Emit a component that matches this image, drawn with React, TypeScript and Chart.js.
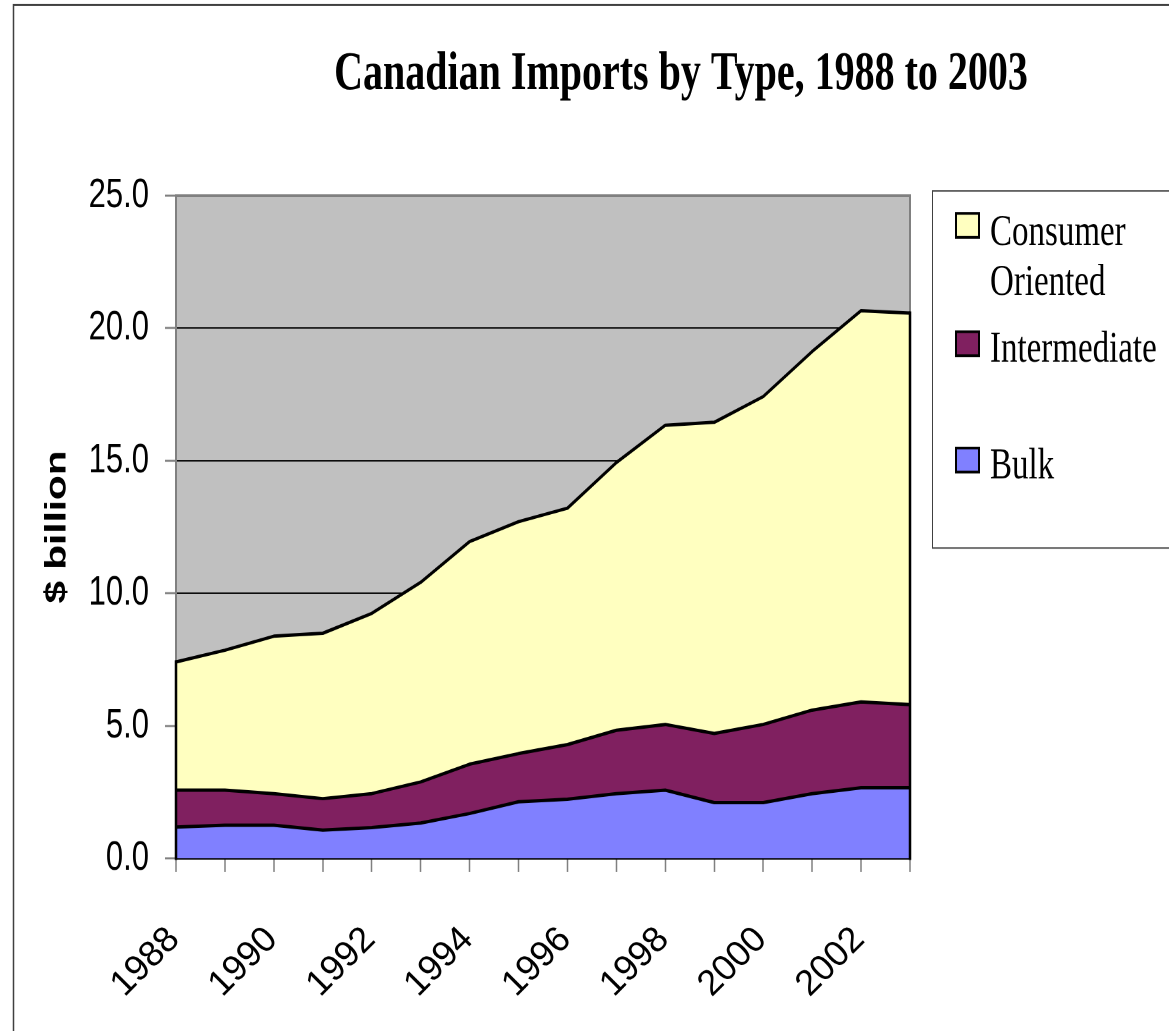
import React, { useEffect, useRef } from 'react';
import { Chart, registerables } from 'chart.js';

Chart.register(...registerables);

// ---------- data ----------
const TITLE = 'Canadian Imports by Type, 1988 to 2003';
const Y_TITLE = '$ billion';
const YEARS = ['1988', '1989', '1990', '1991', '1992', '1993', '1994', '1995', '1996', '1997', '1998', '1999', '2000', '2001', '2002', '2003'];
const SERIES_NAMES = ['Bulk', 'Intermediate', 'Consumer Oriented'];
const BULK = [1.18, 1.25, 1.25, 1.06, 1.16, 1.33, 1.69, 2.13, 2.23, 2.44, 2.57, 2.10, 2.10, 2.44, 2.66, 2.66];
const INTERMEDIATE = [1.39, 1.32, 1.19, 1.19, 1.28, 1.55, 1.86, 1.82, 2.06, 2.39, 2.48, 2.61, 2.95, 3.15, 3.24, 3.14];
const CONSUMER = [4.84, 5.28, 5.94, 6.24, 6.80, 7.53, 8.40, 8.75, 8.92, 10.10, 11.29, 11.74, 12.37, 13.53, 14.76, 14.77];
const Y_MIN = 0;
const Y_MAX = 25;
const Y_STEP = 5;
const SERIES_COLORS = ['#8080FF', '#802060', '#FFFFC0'];
// legend rows, top to bottom (index into SERIES_NAMES)
const LEGEND_ORDER = [2, 1, 0];

// ---------- layout (internal canvas coords; canvas is stretched vertically) ----------
const W = 1169;
const FULL_H = 1031;
const H = 764;
const STRETCH = FULL_H / H;

export default function App() {
  const canvasRef = useRef<HTMLCanvasElement | null>(null);

  useEffect(() => {
    document.body.style.margin = '0';
    const canvas = canvasRef.current;
    if (!canvas) return;

    const series = [BULK, INTERMEDIATE, CONSUMER];

    const decor = {
      id: 'decor',
      beforeDraw(chart: any) {
        const { ctx, chartArea: a } = chart;
        ctx.save();
        ctx.fillStyle = '#FFFFFF';
        ctx.fillRect(0, 0, chart.width, chart.height);
        ctx.fillStyle = '#C0C0C0';
        ctx.fillRect(a.left, a.top, a.right - a.left, a.bottom - a.top);
        ctx.restore();
      },
      beforeDatasetsDraw(chart: any) {
        const { ctx, chartArea: a } = chart;
        ctx.save();
        ctx.strokeStyle = '#808080';
        ctx.lineWidth = 2;
        ctx.beginPath();
        ctx.moveTo(a.left, a.top);
        ctx.lineTo(a.right, a.top);
        ctx.lineTo(a.right, a.bottom);
        ctx.stroke();
        ctx.restore();
      },
      afterDatasetsDraw(chart: any) {
        const { ctx } = chart;
        const xs = chart.scales.x;
        const ys = chart.scales.y;
        ctx.save();
        ctx.strokeStyle = '#000000';
        ctx.lineWidth = 2.5;
        ctx.lineCap = 'square';
        [0, YEARS.length - 1].forEach((i) => {
          const total = series.reduce((s, d) => s + d[i], 0);
          const px = xs.getPixelForValue(i);
          ctx.beginPath();
          ctx.moveTo(px, ys.getPixelForValue(0));
          ctx.lineTo(px, ys.getPixelForValue(total));
          ctx.stroke();
        });
        ctx.restore();
      },
      afterDraw(chart: any) {
        const { ctx } = chart;
        const xs = chart.scales.x;
        ctx.save();
        // outer frame
        ctx.strokeStyle = '#404040';
        ctx.lineWidth = 1.5;
        ctx.strokeRect(13.5, 3.7, 3000, 3000);

        // title
        ctx.fillStyle = '#000000';
        ctx.font = 'bold 40px "Liberation Serif", "Times New Roman", serif';
        ctx.textAlign = 'center';
        ctx.textBaseline = 'alphabetic';
        ctx.fillText(TITLE, 681, 66);

        // x-axis category labels (every other year), drawn undistorted at 45 degrees
        ctx.font = '36px "Liberation Sans", Arial, sans-serif';
        ctx.textAlign = 'right';
        ctx.textBaseline = 'middle';
        YEARS.forEach((yr, i) => {
          if (i % 2 !== 0) return;
          const px = xs.getPixelForTick(i);
          ctx.save();
          ctx.translate(px - 2, 934 / STRETCH);
          ctx.scale(1, 1 / STRETCH);
          ctx.rotate(-Math.PI / 4);
          ctx.fillText(yr, 0, 0);
          ctx.restore();
        });

        // legend
        ctx.strokeStyle = '#404040';
        ctx.lineWidth = 1;
        ctx.strokeRect(932.5, 141.5, 400, 264.6);
        const sqTops = [158.1, 245.8, 332.0];
        const baselines = [[181.5, 218.6], [268.0], [354.4]];
        ctx.font = '33px "Liberation Serif", "Times New Roman", serif';
        ctx.textAlign = 'left';
        ctx.textBaseline = 'alphabetic';
        LEGEND_ORDER.forEach((si, row) => {
          ctx.fillStyle = SERIES_COLORS[si];
          ctx.fillRect(956, sqTops[row], 23, 17.8);
          ctx.strokeStyle = '#000000';
          ctx.lineWidth = 2;
          ctx.strokeRect(956, sqTops[row], 23, 17.8);
          const name = SERIES_NAMES[si];
          const lines = baselines[row].length > 1 ? name.split(' ') : [name];
          ctx.fillStyle = '#000000';
          lines.forEach((ln, k) => ctx.fillText(ln, 990, baselines[row][k]));
        });
        ctx.restore();
      },
    };

    const chart = new Chart(canvas, {
      type: 'line',
      data: {
        labels: YEARS,
        datasets: series.map((d, i) => ({
          label: SERIES_NAMES[i],
          data: d,
          backgroundColor: SERIES_COLORS[i],
          borderColor: '#000000',
          borderWidth: 2.5,
          fill: i === 0 ? 'origin' : '-1',
          pointRadius: 0,
          pointHoverRadius: 0,
          tension: 0,
          borderJoinStyle: 'round',
        })),
      },
      options: {
        animation: false,
        responsive: true,
        maintainAspectRatio: false,
        devicePixelRatio: 2,
        events: [],
        layout: { padding: { top: 145, right: 259, left: 0, bottom: 0 } },
        plugins: {
          legend: { display: false },
          title: { display: false },
          tooltip: { enabled: false },
        },
        scales: {
          x: {
            type: 'category',
            offset: false,
            grid: {
              drawOnChartArea: false,
              drawTicks: true,
              tickLength: 10,
              tickColor: '#808080',
              tickWidth: 1.5,
            },
            border: { display: true, color: '#000000', width: 2 },
            ticks: {
              display: false,
              autoSkip: false,
            },
            afterFit: (s: any) => {
              s.height = H - 636;
            },
          },
          y: {
            stacked: true,
            min: Y_MIN,
            max: Y_MAX,
            grid: {
              color: '#000000',
              lineWidth: 1,
              drawTicks: true,
              tickLength: 11,
              tickColor: '#808080',
              tickWidth: 1.5,
            },
            border: { display: true, color: '#808080', width: 2 },
            ticks: {
              stepSize: Y_STEP,
              padding: 16,
              color: '#000000',
              font: { family: '"Liberation Sans", Arial, sans-serif', size: 31 },
              callback: (v: any) => Number(v).toFixed(1),
            },
            title: {
              display: true,
              text: Y_TITLE,
              color: '#000000',
              font: { family: '"Liberation Sans", Arial, sans-serif', size: 30, weight: 'bold' },
              padding: { top: 39, bottom: 0 },
            },
            afterFit: (s: any) => {
              s.width = 176;
            },
          },
        },
      },
      plugins: [decor],
    } as any);

    return () => chart.destroy();
  }, []);

  return (
    <div style={{ width: W, height: FULL_H, overflow: 'hidden', position: 'relative', background: '#FFFFFF' }}>
      <div
        style={{
          width: W,
          height: H,
          position: 'absolute',
          left: 0,
          top: 0,
          transform: `scaleY(${STRETCH})`,
          transformOrigin: '0 0',
        }}
      >
        <canvas ref={canvasRef} />
      </div>
    </div>
  );
}
